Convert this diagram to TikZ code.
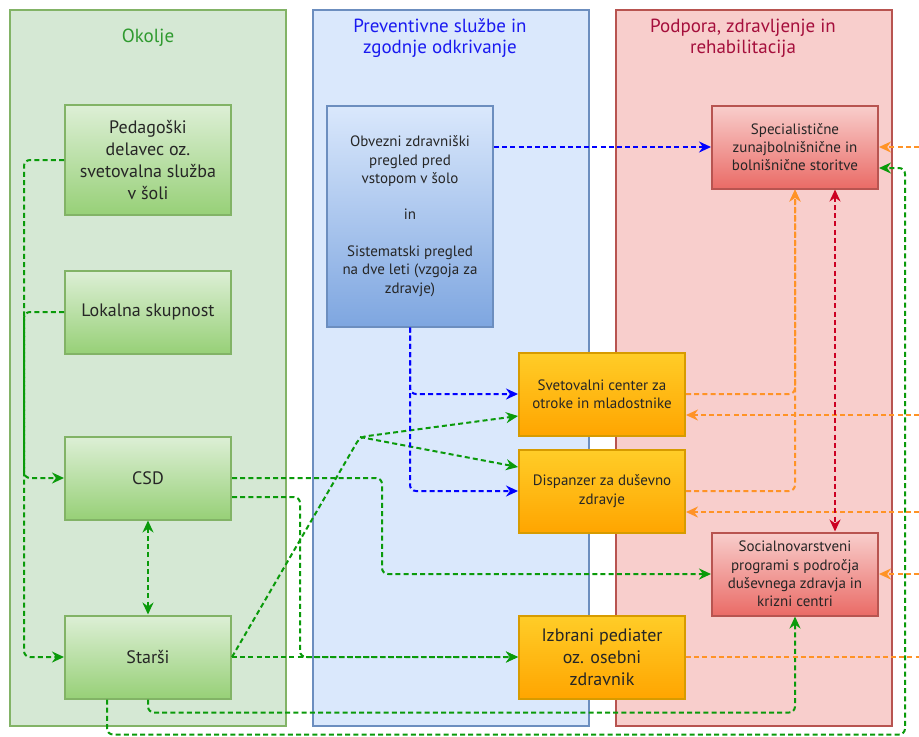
\documentclass[tikz,border=0pt]{standalone}
\usepackage{fontspec}
\setmainfont{PT Sans}
\usetikzlibrary{arrows.meta,calc}
\definecolor{grnlane}{HTML}{D5E8D4}
\definecolor{grnline}{HTML}{82B366}
\definecolor{grntop}{HTML}{DDEFD6}
\definecolor{grnbot}{HTML}{97D077}
\definecolor{grntxt}{HTML}{2F9A2F}
\definecolor{blulane}{HTML}{DAE8FC}
\definecolor{bluline}{HTML}{6C8EBF}
\definecolor{blubot}{HTML}{7EA6E0}
\definecolor{blutxt}{HTML}{1A1AF0}
\definecolor{redlane}{HTML}{F8CECC}
\definecolor{redline}{HTML}{B85450}
\definecolor{redtop}{HTML}{F8CECC}
\definecolor{redbot}{HTML}{EA6B66}
\definecolor{redtxt}{HTML}{A50F3C}
\definecolor{orgtop}{HTML}{FFCD28}
\definecolor{orgbot}{HTML}{FFA500}
\definecolor{orgline}{HTML}{D79B00}
\definecolor{grnarr}{HTML}{0A9A0A}
\definecolor{bluarr}{HTML}{0000FF}
\definecolor{orgarr}{HTML}{FF9326}
\definecolor{redarr}{HTML}{CC0022}
\tikzset{
  lane/.style={line width=1pt},
  lanetitle/.style={align=center, font=\fontsize{9.5}{10.5}\selectfont},
  box/.style={rectangle, line width=1pt, align=center, inner sep=2pt, text=black!85,
    minimum width=83pt, minimum height=41.5pt},
  bigtxt/.style={font=\fontsize{9}{11}\selectfont},
  smalltxt/.style={font=\fontsize{7.5}{9.2}\selectfont},
  gbox/.style={box, bigtxt, draw=grnline, top color=grntop, bottom color=grnbot},
  bbox/.style={box, smalltxt, draw=bluline, top color=blulane, bottom color=blubot},
  obox/.style={box, smalltxt, draw=orgline, top color=orgtop, bottom color=orgbot},
  rbox/.style={box, smalltxt, draw=redline, top color=redtop, bottom color=redbot},
  link/.style={dash pattern=on 2.5pt off 1.6pt, line width=1pt, rounded corners=3pt,
    -{Stealth[length=6pt,width=5.5pt]}},
  both/.style={{Stealth[length=6pt,width=5.5pt]}-{Stealth[length=6pt,width=5.5pt]}},
}
\begin{document}
\begin{tikzpicture}[x=0.5pt, y=-0.5pt]
  \useasboundingbox (0,0) rectangle (919,736);
  \draw[lane, draw=grnline, fill=grnlane] (10,10) rectangle (286,726);
  \draw[lane, draw=bluline, fill=blulane] (313,10) rectangle (589,726);
  \draw[lane, draw=redline, fill=redlane] (616,10) rectangle (892,726);
  \node[lanetitle, text=grntxt] (okolje) at (148,38) {Okolje};
  \node[lanetitle, text=blutxt] (prevent) at (440,38) {Preventivne službe in\\zgodnje odkrivanje};
  \node[lanetitle, text=redtxt] (podpora) at (743,38) {Podpora, zdravljenje in\\rehabilitacija};

  \node[gbox, minimum height=55pt] (ped) at (148,160) {Pedagoški\\delavec oz.\\svetovalna služba\\v šoli};
  \node[gbox] (lok) at (148,312) {Lokalna skupnost};
  \node[gbox] (csd) at (148,478) {CSD};
  \node[gbox] (star) at (148,657) {Starši};
  \node[bbox, minimum height=110.5pt] (obv) at (410,216)
    {Obvezni zdravniški\\pregled pred\\vstopom v šolo\\[9pt]in\\[9pt]Sistematski pregled\\na dve leti (vzgoja za\\zdravje)};
  \node[obox] (svet) at (602,394) {Svetovalni center za\\otroke in mladostnike};
  \node[obox] (disp) at (602,491) {Dispanzer za duševno\\zdravje};
  \node[obox, bigtxt] (izb) at (602,657) {Izbrani pediater\\oz. osebni\\zdravnik};
  \node[rbox] (spec) at (795,147) {Specialistične\\zunajbolnišnične in\\bolnišnične storitve};
  \node[rbox] (soc) at (795,574) {Socialnovarstveni\\programi s področja\\duševnega zdravja in\\krizni centri};

  \coordinate (rim) at (919,0);
  \coordinate (fork) at (360,437);
  \coordinate (svin) at ([yshift=-10.5pt]svet.east);
  \coordinate (dispin) at ([yshift=-10.5pt]disp.east);

  \draw[link, draw=grnarr] (ped.west) -- ++(-40,0) |- (csd.west);
  \draw[link, draw=grnarr] (lok.west) -- ++(-40,0) |- (star.west);
  \draw[link, both, draw=grnarr] (csd.south) -- (star.north);
  \draw[link, draw=grnarr] (csd.east) -- (382,478) |- (soc.west);
  \draw[link, draw=grnarr] ([yshift=-9.5pt]csd.east) -- (300,497) |- (izb.west);
  \draw[link, draw=grnarr] (star.east) -- (izb.west);
  \draw[link, draw=grnarr] (star.east) -- (fork) -- ([yshift=-11pt]svet.west);
  \draw[link, draw=grnarr] (fork) -- ([yshift=12pt]disp.west);
  \draw[link, draw=grnarr] (star.south) -- ++(0,13) -| (soc.south);
  \draw[link, draw=grnarr] ([xshift=-20.5pt]star.south) -- ++(0,35) -- ++(798,0)
    |- ([yshift=-10.5pt]spec.east);

  \draw[link, draw=bluarr] (obv.east |- spec.west) -- (spec.west);
  \draw[link, draw=bluarr] (obv.south) |- (svet.west);
  \draw[link, draw=bluarr] (obv.south) |- (disp.west);

  \draw[link, draw=orgarr] (svet.east) -| (spec.south);
  \draw[link, draw=orgarr] (disp.east) -| (spec.south);
  \draw[link, draw=orgarr] (rim |- spec.east) -- (spec.east);
  \draw[link, draw=orgarr] (rim |- svin) -- (svin);
  \draw[link, draw=orgarr] (rim |- dispin) -- (dispin);
  \draw[link, draw=orgarr] (rim |- soc.east) -- (soc.east);
  \draw[link, draw=orgarr, -] (izb.east) -- (rim |- izb.east);

  \draw[link, both, draw=redarr] ([xshift=20pt]spec.south) -- ([xshift=20pt]soc.north);
\end{tikzpicture}
\end{document}
